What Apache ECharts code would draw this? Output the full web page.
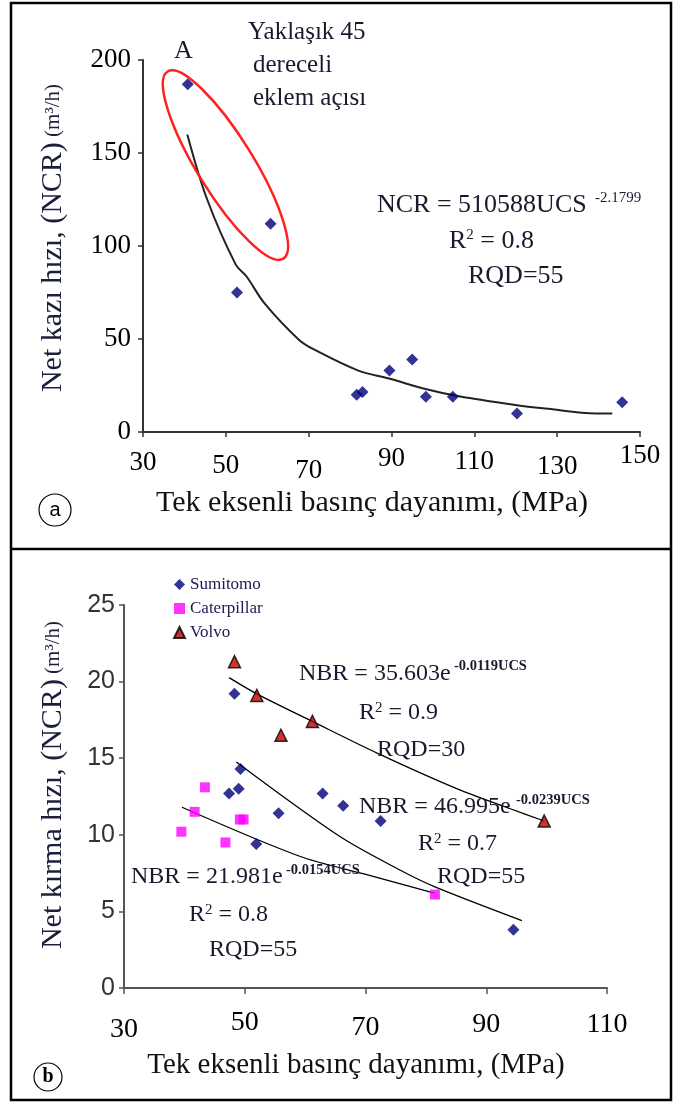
<!DOCTYPE html>
<html>
<head>
<meta charset="utf-8">
<script src="https://cdn.jsdelivr.net/npm/echarts@6/dist/echarts.min.js"></script>
<style>
  html, body { margin: 0; padding: 0; background: #fff; }
  #chart { width: 675px; height: 1104px; }
</style>
</head>
<body>
<div id="chart"></div>
<script>
// ---- Panel (a): net cutting rate vs uniaxial compressive strength ----
const ucsA = [40.8, 60.8, 52.7, 81.6, 83.0, 89.5, 95.0, 98.3, 104.8, 120.3, 145.7];
const ncrA = [187, 112, 75, 20, 21.5, 33, 39, 19, 19, 10, 16];
// fitted power curve, as drawn
const fitAUcs = [40.7, 45.5, 52.4, 55, 59.4, 67.7, 71.6, 82, 89.4, 97.7, 106.3, 120.3, 127.2, 139.4, 143.3];
const fitANcr = [160, 125, 90, 83.6, 69, 49.5, 44, 33, 28.8, 23.4, 19.2, 14.4, 12.6, 9.9, 9.9];
const ticksAX = [30, 50, 70, 90, 110, 130, 150];
const ticksAY = [0, 50, 100, 150, 200];

// ---- Panel (b): net breaking rate per machine ----
const sumitomoUcs = [48.3, 49.3, 49.0, 47.4, 55.6, 62.9, 66.3, 72.5, 51.9, 94.5];
const sumitomoNbr = [19.2, 14.3, 13.0, 12.7, 11.4, 12.7, 11.9, 10.9, 9.4, 3.8];
const caterpillarUcs = [43.4, 41.7, 39.5, 46.8, 49.2, 49.8, 81.5];
const caterpillarNbr = [13.1, 11.5, 10.2, 9.5, 11.0, 11.0, 6.1];
const volvoUcs = [48.3, 52.0, 56.0, 61.2, 99.6];
const volvoNbr = [21.3, 19.1, 16.5, 17.4, 10.9];
// fitted exponential curves, as drawn
const volvoFitUcs = [47.4, 52.0, 61.2, 72.1, 85.2, 94.0, 99.6];
const volvoFitNbr = [20.26, 19.2, 17.4, 15.3, 13.0, 11.7, 10.9];
const sumitomoFitUcs = [48.6, 65.7, 75.7, 81.5, 95.9];
const sumitomoFitNbr = [14.75, 9.9, 7.7, 6.6, 4.4];
const caterpillarFitUcs = [39.6, 59.1, 70.2, 81.4];
const caterpillarFitNbr = [11.8, 8.6, 7.4, 6.2];
const ticksBX = [30, 50, 70, 90, 110];
const ticksBY = [0, 5, 10, 15, 20, 25];

const seriesNames = ['Sumitomo', 'Caterpillar', 'Volvo'];

const pairs = (xs, ys) => xs.map((x, i) => [x, ys[i]]);

const SERIF = '"Liberation Serif", "Times New Roman", serif';
const SANS = '"Liberation Sans", Arial, sans-serif';
const TITLE_COLOR = '#1b1f3b';

// small vertical drops on individual tick labels
const dropA = { 30: 7, 50: 10, 70: 15, 90: 3, 110: 6, 130: 11, 150: 0 };
const dropB = { 30: 7, 50: 0, 70: 5, 90: 2, 110: 2 };
function richFor(drops, size) {
  const r = {};
  Object.keys(drops).forEach(k => {
    r['p' + k] = { fontFamily: SERIF, fontSize: size, color: '#000', padding: [drops[k], 0, 0, 0] };
  });
  return r;
}

const chart = echarts.init(document.getElementById('chart'), null, { renderer: 'canvas' });

const axisLineA = { show: true, lineStyle: { color: '#333', width: 2 } };
const axisLineB = { show: true, lineStyle: { color: '#555', width: 2 } };

chart.setOption({
  animation: false,
  backgroundColor: '#fff',
  grid: [
    { left: 143, right: 35, top: 60, height: 372 },
    { left: 124, right: 68, top: 605, height: 383 }
  ],
  legend: {
    data: seriesNames,
    orient: 'vertical',
    left: 168,
    top: 571,
    itemGap: 7,
    itemWidth: 11,
    itemHeight: 11,
    textStyle: { fontFamily: SERIF, fontSize: 17, color: '#1a1a50' }
  },
  xAxis: [
    {
      gridIndex: 0, type: 'value', min: ticksAX[0], max: ticksAX[ticksAX.length - 1], interval: 20,
      splitLine: { show: false }, axisLine: axisLineA,
      axisTick: { show: true, inside: false, length: 5, lineStyle: { color: '#333', width: 1.5 } },
      axisLabel: {
        margin: 10, fontFamily: SERIF, fontSize: 27, color: '#000',
        formatter: v => `{p${v}|${v}}`, rich: richFor(dropA, 27)
      }
    },
    {
      gridIndex: 1, type: 'value', min: ticksBX[0], max: ticksBX[ticksBX.length - 1], interval: 20,
      splitLine: { show: false }, axisLine: axisLineB,
      axisTick: { show: true, inside: false, length: 6, lineStyle: { color: '#555', width: 1.5 } },
      axisLabel: {
        margin: 21, fontFamily: SERIF, fontSize: 28, color: '#000',
        formatter: v => `{p${v}|${v}}`, rich: richFor(dropB, 28)
      }
    }
  ],
  yAxis: [
    {
      gridIndex: 0, type: 'value', min: ticksAY[0], max: ticksAY[ticksAY.length - 1], interval: 50,
      splitLine: { show: false }, axisLine: axisLineA,
      axisTick: { show: true, inside: false, length: 5, lineStyle: { color: '#333', width: 1.5 } },
      axisLabel: { margin: 12, fontFamily: SERIF, fontSize: 27, color: '#000' }
    },
    {
      gridIndex: 1, type: 'value', min: ticksBY[0], max: ticksBY[ticksBY.length - 1], interval: 5,
      splitLine: { show: false }, axisLine: axisLineB,
      axisTick: { show: true, inside: false, length: 5, lineStyle: { color: '#555', width: 1.5 } },
      axisLabel: { margin: 9, fontFamily: SANS, fontSize: 25, color: '#333' }
    }
  ],
  series: [
    {
      name: 'NCR', type: 'scatter', xAxisIndex: 0, yAxisIndex: 0,
      symbol: 'diamond', symbolSize: 12,
      itemStyle: { color: '#00007a' },
      data: pairs(ucsA, ncrA), z: 5
    },
    {
      name: 'NCR fit', type: 'line', xAxisIndex: 0, yAxisIndex: 0,
      showSymbol: false, symbol: 'none', smooth: 0.35,
      lineStyle: { color: '#222', width: 2 },
      data: pairs(fitAUcs, fitANcr), z: 3
    },
    {
      name: 'Sumitomo', type: 'scatter', xAxisIndex: 1, yAxisIndex: 1,
      symbol: 'diamond', symbolSize: 12,
      itemStyle: { color: '#00007a' },
      data: pairs(sumitomoUcs, sumitomoNbr), z: 5
    },
    {
      name: 'Caterpillar', type: 'scatter', xAxisIndex: 1, yAxisIndex: 1,
      symbol: 'rect', symbolSize: 10,
      itemStyle: { color: '#ff00ff' },
      data: pairs(caterpillarUcs, caterpillarNbr), z: 5
    },
    {
      name: 'Volvo', type: 'scatter', xAxisIndex: 1, yAxisIndex: 1,
      symbol: 'triangle', symbolSize: 12,
      itemStyle: { color: '#c00000', borderColor: '#000', borderWidth: 1.5 },
      data: pairs(volvoUcs, volvoNbr), z: 5
    },
    {
      name: 'Volvo fit', type: 'line', xAxisIndex: 1, yAxisIndex: 1,
      showSymbol: false, symbol: 'none', smooth: 0.3,
      lineStyle: { color: '#000', width: 1.3 },
      data: pairs(volvoFitUcs, volvoFitNbr), z: 3
    },
    {
      name: 'Sumitomo fit', type: 'line', xAxisIndex: 1, yAxisIndex: 1,
      showSymbol: false, symbol: 'none', smooth: 0.3,
      lineStyle: { color: '#000', width: 1.3 },
      data: pairs(sumitomoFitUcs, sumitomoFitNbr), z: 3
    },
    {
      name: 'Caterpillar fit', type: 'line', xAxisIndex: 1, yAxisIndex: 1,
      showSymbol: false, symbol: 'none', smooth: 0.3,
      lineStyle: { color: '#000', width: 1.3 },
      data: pairs(caterpillarFitUcs, caterpillarFitNbr), z: 3
    }
  ]
});

// ---- annotations, frame and axis titles ----
function txt(x, y, text, size, opts) {
  return {
    type: 'text', x: x, y: y, z: 20,
    style: Object.assign({
      text: text, fontFamily: SERIF, fontSize: size, fill: '#1a1a2e',
      align: 'left', verticalAlign: 'middle'
    }, opts || {})
  };
}
function rSquared(x, y, value, size) {
  return txt(x, y, `{a|R}{s|2}{a| = ${value}}`, size, {
    rich: { a: { fontFamily: SERIF, fontSize: size, fill: '#1a1a2e' },
            s: { fontFamily: SERIF, fontSize: 15, fill: '#1a1a2e', verticalAlign: 'top', padding: [0, 0, 8, 0] } }
  });
}

// red ellipse around the two jointed-rock points
const ellipseCenter = chart.convertToPixel({ gridIndex: 0 }, [49.9, 143.5]);

const graphics = [
  // outer frame and panel divider
  { type: 'rect', z: 1, shape: { x: 11, y: 3, width: 660, height: 1097 },
    style: { fill: 'none', stroke: '#000', lineWidth: 2.5 } },
  { type: 'line', z: 1, shape: { x1: 11, y1: 549, x2: 671, y2: 549 },
    style: { stroke: '#000', lineWidth: 2.5 } },

  { type: 'ellipse', z: 15, x: ellipseCenter[0], y: ellipseCenter[1],
    rotation: -58.3 * Math.PI / 180,
    shape: { cx: 0, cy: 0, rx: 110, ry: 28 },
    style: { fill: 'none', stroke: '#ff2020', lineWidth: 2.5 } },

  // panel (a) texts
  txt(174, 51, 'A', 26),
  txt(248, 32, 'Yaklaşık 45', 25),
  txt(253, 65, 'dereceli', 25),
  txt(253, 98, 'eklem açısı', 25),
  txt(377, 205, 'NCR = 510588UCS', 26),
  txt(595, 198, '-2.1799', 15),
  rSquared(449, 241, '0.8', 26),
  txt(468, 276, 'RQD=55', 26),

  // panel (b) texts
  txt(299, 674, 'NBR = 35.603e', 24),
  txt(454, 666, '-0.0119UCS', 14.5, { fontWeight: 'bold' }),
  rSquared(359, 713, '0.9', 24),
  txt(377, 750, 'RQD=30', 24),
  txt(359, 807, 'NBR = 46.995e', 24),
  txt(516, 800, '-0.0239UCS', 14.5, { fontWeight: 'bold' }),
  rSquared(418, 844, '0.7', 24),
  txt(437, 877, 'RQD=55', 24),
  txt(131, 877, 'NBR = 21.981e', 24),
  txt(286, 870, '-0.0154UCS', 14.5, { fontWeight: 'bold' }),
  rSquared(189, 915, '0.8', 24),
  txt(209, 950, 'RQD=55', 24),

  // axis titles
  txt(372, 503, 'Tek eksenli basınç dayanımı, (MPa)', 30, { align: 'center', fill: '#111' }),
  txt(356, 1065, 'Tek eksenli basınç dayanımı, (MPa)', 29, { align: 'center', fill: '#111' }),
  { type: 'text', x: 53, y: 238, rotation: Math.PI / 2, z: 20,
    style: { text: '{m|Net kazı hızı, (NCR)}{u| (m³/h)}', align: 'center', verticalAlign: 'middle',
      rich: { m: { fontFamily: SERIF, fontSize: 30, fill: TITLE_COLOR },
              u: { fontFamily: SERIF, fontSize: 21, fill: TITLE_COLOR } } } },
  { type: 'text', x: 53, y: 785, rotation: Math.PI / 2, z: 20,
    style: { text: '{m|Net kırma hızı, (NCR)}{u| (m³/h)}', align: 'center', verticalAlign: 'middle',
      rich: { m: { fontFamily: SERIF, fontSize: 30, fill: TITLE_COLOR },
              u: { fontFamily: SERIF, fontSize: 21, fill: TITLE_COLOR } } } },

  // panel markers
  { type: 'circle', z: 20, shape: { cx: 55, cy: 510, r: 16 },
    style: { fill: 'none', stroke: '#000', lineWidth: 1.2 } },
  txt(55, 510, 'a', 20, { align: 'center', fontFamily: SANS, fill: '#000' }),
  { type: 'circle', z: 20, shape: { cx: 48, cy: 1077, r: 14 },
    style: { fill: 'none', stroke: '#000', lineWidth: 1.2 } },
  txt(48, 1077, 'b', 20, { align: 'center', fontWeight: 'bold', fill: '#000' })
];

chart.setOption({ graphic: graphics });
</script>
</body>
</html>
